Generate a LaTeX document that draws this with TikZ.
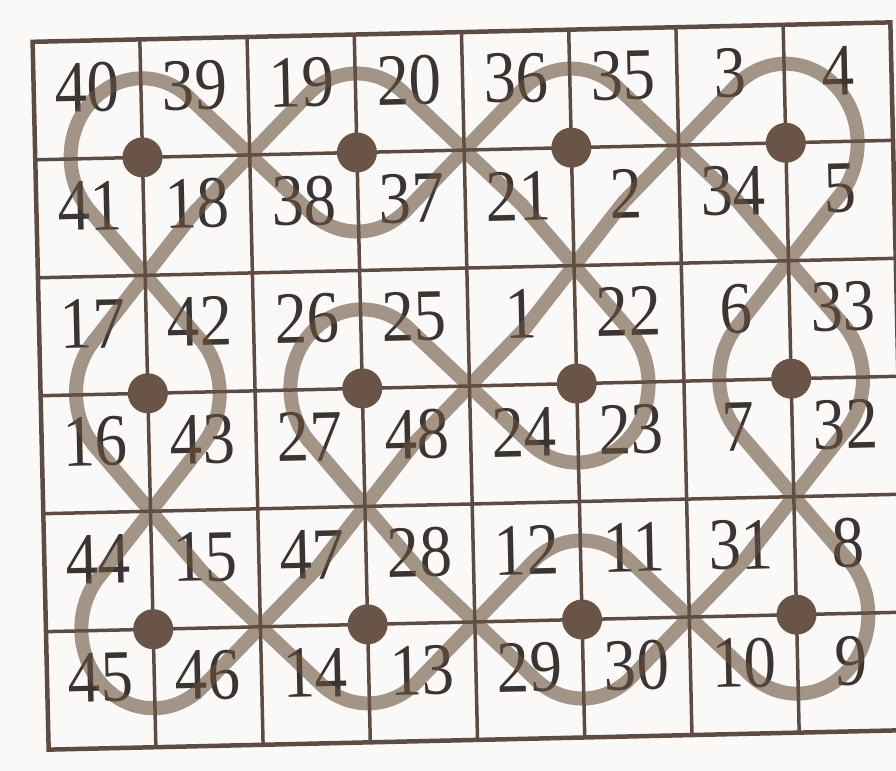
\documentclass[tikz,border=0pt]{standalone}
\usepackage{graphicx}
\usepackage{xcolor}
\usepackage{fontspec}
\setmainfont{Liberation Serif}
\usepackage{tikz}

\definecolor{paper}{HTML}{FAF9F7}
\definecolor{gridcol}{HTML}{5C4C44}
\definecolor{dotcol}{HTML}{6A5447}
\definecolor{loopcol}{HTML}{69513F}
\definecolor{numcol}{HTML}{3A3432}
\newcommand{\loopr}{0.67}

\begin{document}
\begin{tikzpicture}[
    gridline/.style={draw=gridcol,line width=3.5bp},
    frame/.style={draw=gridcol,line width=4.5bp},
    kolam/.style={draw=loopcol,draw opacity=.6,line width=14bp,line join=round,line cap=round},
    dot/.style={circle,fill=dotcol,minimum size=40bp,inner sep=0pt},
    num/.style={font=\fontsize{74}{78}\selectfont,text=numcol,inner sep=0pt,transform shape}
]
\fill[paper] (0bp,0bp) rectangle (896bp,-771bp);
\useasboundingbox (0bp,0bp) rectangle (896bp,-771bp);
\begin{scope}[shift={(469.5bp,-386bp)},rotate=1.3,x=107.25bp,y=-118bp,shift={(-4,-3)}]
\foreach \c in {1,...,7} \draw[gridline] (\c,0) -- (\c,6);
\foreach \r in {1,...,5} \draw[gridline] (0,\r) -- (8,\r);
\draw[frame] (0,0) rectangle (8,6);
\foreach \r/\row in {0/{40,39,19,20,36,35,3,4},1/{41,18,38,37,21,2,34,5},2/{17,42,26,25,1,22,6,33},
    3/{16,43,27,48,24,23,7,32},4/{44,15,47,28,12,11,31,8},5/{45,46,14,13,29,30,10,9}}
  \foreach \n [count=\c from 0] in \row
    \node[num] (n\n) at (\c+0.5,\r+0.4) {\scalebox{.88}[1]{\n}};
\foreach \i in {1,3,5,7} \foreach \j in {1,3,5}
  \path (\i,\j) +(-45:\loopr) coordinate (ne\i\j) +(45:\loopr) coordinate (se\i\j)
    +(135:\loopr) coordinate (sw\i\j) +(225:\loopr) coordinate (nw\i\j);
\draw[kolam] (ne11) -- (sw31) arc[start angle=135,end angle=45,radius=\loopr]
  -- (nw51) arc[start angle=225,end angle=315,radius=\loopr]
  -- (sw71) -- (ne73) arc[start angle=-45,end angle=45,radius=\loopr]
  -- (nw75) -- (se55) arc[start angle=45,end angle=135,radius=\loopr]
  -- (ne35) -- (sw33) arc[start angle=135,end angle=315,radius=\loopr]
  -- (sw53) arc[start angle=135,end angle=-45,radius=\loopr]
  -- (sw51) -- (ne31) arc[start angle=-45,end angle=-135,radius=\loopr]
  -- (se11) -- (nw13) arc[start angle=225,end angle=135,radius=\loopr]
  -- (ne15) -- (sw35) arc[start angle=135,end angle=45,radius=\loopr]
  -- (nw55) arc[start angle=225,end angle=315,radius=\loopr]
  -- (sw75) arc[start angle=135,end angle=-45,radius=\loopr]
  -- (sw73) arc[start angle=135,end angle=225,radius=\loopr]
  -- (se71) arc[start angle=45,end angle=-135,radius=\loopr]
  -- (se51) -- (nw53) -- (se33) -- (nw35) -- (se15) arc[start angle=45,end angle=225,radius=\loopr]
  -- (se13) arc[start angle=45,end angle=-45,radius=\loopr]
  -- (sw11) arc[start angle=135,end angle=315,radius=\loopr] -- cycle;
\foreach \i in {1,3,5,7} \foreach \j in {1,3,5}
  \node[dot] (d\i\j) at (\i,\j) {};
\end{scope}
\end{tikzpicture}
\end{document}
